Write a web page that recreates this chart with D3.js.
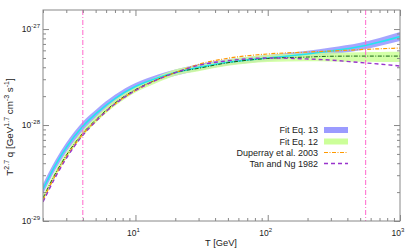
<!DOCTYPE html>
<html><head><meta charset="utf-8">
<script src="https://cdn.jsdelivr.net/npm/d3@7"></script>
<style>
html,body{margin:0;padding:0;background:#fff;}
svg{display:block;font-family:"Liberation Sans",Arial,Helvetica,sans-serif;}
</style></head>
<body><svg id="c" width="415" height="249"></svg>
<script>
// ---- data ----
const T = [2,2.5,3,4,5,7,10,15,20,30,50,100,200,300,500,700,1000];
const eq13   = [2.154e-29,3.90e-29,5.84e-29,9.72e-29,1.305e-28,1.888e-28,2.518e-28,3.13e-28,3.515e-28,3.99e-28,4.51e-28,5.00e-28,5.50e-28,5.91e-28,6.57e-28,7.32e-28,8.35e-28];
const eq13Lo = [1.911e-29,3.48e-29,5.23e-29,8.73e-29,1.186e-28,1.727e-28,2.316e-28,2.90e-28,3.27e-28,3.71e-28,4.20e-28,4.65e-28,5.09e-28,5.44e-28,6.00e-28,6.65e-28,7.50e-28];
const eq13Hi = [2.428e-29,4.37e-29,6.52e-29,1.083e-28,1.436e-28,2.064e-28,2.737e-28,3.38e-28,3.78e-28,4.29e-28,4.85e-28,5.38e-28,5.94e-28,6.42e-28,7.19e-28,8.05e-28,9.30e-28];
const eq12   = [1.736e-29,3.18e-29,4.83e-29,8.22e-29,1.13e-28,1.695e-28,2.34e-28,3.02e-28,3.515e-28,3.90e-28,4.46e-28,4.94e-28,5.11e-28,5.21e-28,5.23e-28,5.23e-28,5.23e-28];
const eq12Lo = [1.615e-29,2.96e-29,4.49e-29,7.65e-29,1.051e-28,1.577e-28,2.177e-28,2.81e-28,3.27e-28,3.63e-28,4.14e-28,4.55e-28,4.62e-28,4.60e-28,4.57e-28,4.55e-28,4.53e-28];
const eq12Hi = [1.866e-29,3.42e-29,5.19e-29,8.84e-29,1.215e-28,1.822e-28,2.516e-28,3.25e-28,3.78e-28,4.19e-28,4.82e-28,5.37e-28,5.60e-28,5.70e-28,5.75e-28,5.77e-28,5.80e-28];
const duperray = [1.65e-29,3.04e-29,4.65e-29,8.02e-29,1.10e-28,1.655e-28,2.29e-28,3.02e-28,3.515e-28,4.29e-28,4.96e-28,5.50e-28,5.76e-28,5.90e-28,6.11e-28,6.23e-28,6.34e-28];
const tanNg    = [1.58e-29,2.92e-29,4.49e-29,7.83e-29,1.09e-28,1.655e-28,2.29e-28,3.02e-28,3.515e-28,4.19e-28,4.67e-28,5.00e-28,4.88e-28,4.75e-28,4.48e-28,4.32e-28,4.12e-28];
const vLines = [4, 550];
const xMajor = [10,100,1000];
const xMajorLabels = ["1","2","3"];
const yMajor = [1e-29,1e-28,1e-27];
const yMajorLabels = ["-29","-28","-27"];
const legendLabels = ["Fit Eq. 13","Fit Eq. 12","Duperray et al. 2003","Tan and Ng 1982"];

// ---- layout ----
const L=43,R=400,Tp=10,B=221;
const svg=d3.select("#c");
const x=d3.scaleLog().domain([2,1000]).range([L,R]);
const y=d3.scaleLog().domain([1e-29,1.58e-27]).range([B,Tp]);
const axisCol="#888", txtCol="#222";

svg.append("defs").append("clipPath").attr("id","clip")
  .append("rect").attr("x",L).attr("y",Tp).attr("width",R-L).attr("height",B-Tp);
const g=svg.append("g").attr("clip-path","url(#clip)");

const idx=d3.range(T.length);
const area=(lo,hi)=>d3.area().x(i=>x(T[i])).y0(i=>y(lo[i])).y1(i=>y(hi[i])).curve(d3.curveMonotoneX);
const line=(v)=>d3.line().x(i=>x(T[i])).y(i=>y(v[i])).curve(d3.curveMonotoneX);

g.append("path").datum(idx).attr("d",area(eq13Lo,eq13Hi)).attr("fill","#9b9bff").attr("opacity",0.9);
g.append("path").datum(idx).attr("d",area(eq12Lo,eq12Hi)).attr("fill","#ccff99").attr("opacity",0.85);
g.append("path").datum(idx).attr("d",line(eq13)).attr("fill","none").attr("stroke","#22e6ee").attr("stroke-width",1.6);
g.append("path").datum(idx).attr("d",line(eq12)).attr("fill","none").attr("stroke","#116611").attr("stroke-width",1).attr("stroke-dasharray","4,1.5,1,1.5");
g.append("path").datum(idx).attr("d",line(duperray)).attr("fill","none").attr("stroke","#ff9900").attr("stroke-width",1.2).attr("stroke-dasharray","4,1.5,1,1.5");
g.append("path").datum(idx).attr("d",line(tanNg)).attr("fill","none").attr("stroke","#9933cc").attr("stroke-width",1.4).attr("stroke-dasharray","4,3");

vLines.forEach(v=>{
  g.append("line").attr("x1",x(v)).attr("x2",x(v)).attr("y1",Tp).attr("y2",B)
   .attr("stroke","#ff66cc").attr("stroke-width",1).attr("stroke-dasharray","5,2,1,2");
});

// ---- axes ----
const minorX=[];[1,10,100].forEach(d=>{for(let k=2;k<=9;k++){const v=d*k;if(v>=2&&v<1000)minorX.push(v);}});
const minorY=[];[1e-29,1e-28,1e-27].forEach(d=>{for(let k=2;k<=9;k++){const v=d*k;if(v<1.58e-27)minorY.push(v);}});
function ax(gen,scale,vals,size,tx,ty){
  const a=svg.append("g").attr("transform",`translate(${tx},${ty})`)
    .call(gen(scale).tickValues(vals).tickSize(size).tickFormat(""));
  a.select(".domain").remove();
  a.selectAll("line").attr("stroke",axisCol);
}
ax(d3.axisBottom,x,minorX,-3,0,B); ax(d3.axisBottom,x,xMajor,-6,0,B);
ax(d3.axisTop,x,minorX,-3,0,Tp); ax(d3.axisTop,x,xMajor,-6,0,Tp);
ax(d3.axisLeft,y,minorY,-3,L,0); ax(d3.axisLeft,y,yMajor,-6,L,0);
ax(d3.axisRight,y,minorY,-3,R,0); ax(d3.axisRight,y,yMajor,-6,R,0);
svg.append("rect").attr("x",L).attr("y",Tp).attr("width",R-L).attr("height",B-Tp)
  .attr("fill","none").attr("stroke",axisCol).attr("stroke-width",1);

// tick labels
xMajor.forEach((v,i)=>{
  const t=svg.append("text").attr("x",x(v)-2).attr("y",B+15).attr("text-anchor","middle")
   .attr("font-size",8.5).attr("fill",txtCol);
  t.append("tspan").text("10");
  t.append("tspan").attr("dy",-4).attr("font-size",6).text(xMajorLabels[i]);
});
yMajor.forEach((v,i)=>{
  const t=svg.append("text").attr("x",L-3).attr("y",y(v)+3).attr("text-anchor","end")
   .attr("font-size",8.5).attr("fill",txtCol);
  t.append("tspan").text("10");
  t.append("tspan").attr("dy",-4).attr("font-size",6).text(yMajorLabels[i]);
});

// axis titles
svg.append("text").attr("x",221).attr("y",246).attr("text-anchor","middle")
  .attr("font-size",9.3).attr("fill",txtCol).text("T [GeV]");
const yl=svg.append("text").attr("transform","translate(13,127) rotate(-90)").attr("text-anchor","middle")
  .attr("font-size",9.8).attr("fill",txtCol);
[["T",0],["2.7",1],[" q [GeV",0],["1.7",1],[" cm",0],["-3",1],[" s",0],["-1",1],["]",0]].forEach(([s,sup],i)=>{
  const ts=yl.append("tspan").text(s);
  if(sup){ts.attr("font-size",7).attr("dy",-4);}
  else if(i>0){ts.attr("dy",4);}
});

// legend
const legY=[130,141.5,152.5,163.5];
legendLabels.forEach((lab,i)=>{
  svg.append("text").attr("x",318).attr("y",legY[i]+3.2).attr("text-anchor","end")
    .attr("font-size",9).attr("fill",txtCol).text(lab);
});
svg.append("rect").attr("x",324).attr("y",legY[0]-3).attr("width",24).attr("height",6).attr("fill","#9b9bff");
svg.append("rect").attr("x",324).attr("y",legY[1]-3).attr("width",24).attr("height",6).attr("fill","#ccff99");
svg.append("line").attr("x1",324).attr("x2",348).attr("y1",legY[2]).attr("y2",legY[2])
  .attr("stroke","#ff9900").attr("stroke-width",1.2).attr("stroke-dasharray","4,1.5,1,1.5");
svg.append("line").attr("x1",324).attr("x2",348).attr("y1",legY[3]).attr("y2",legY[3])
  .attr("stroke","#9933cc").attr("stroke-width",1.4).attr("stroke-dasharray","4,3");
</script></body></html>
